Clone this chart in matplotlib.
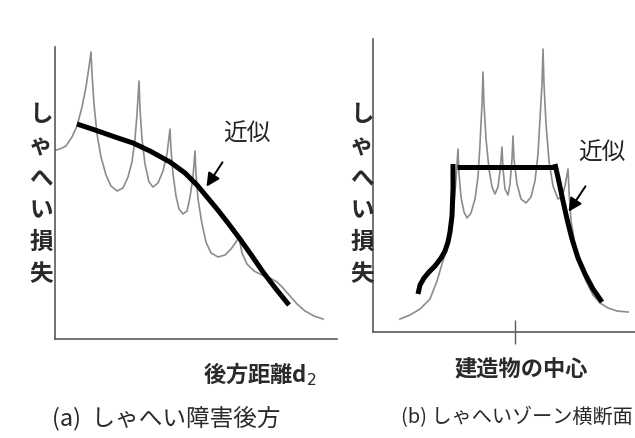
import matplotlib
matplotlib.use("Agg")
import matplotlib.pyplot as plt

plt.rcParams['font.family'] = ['Noto Sans CJK JP', 'DejaVu Sans']

# ---------------- data (schematic) ----------------
# Panel (a): shielding loss vs distance behind obstacle
a_dist = [1, 5, 11, 17, 22, 27, 31, 34, 36, 37, 39, 42, 46, 51, 56, 62, 68, 73, 77, 80, 82, 84,
          85, 87, 90, 94, 98, 103, 108, 112, 115, 116, 118, 121, 124, 128, 132, 135, 138, 140,
          141, 143, 147, 151, 156, 163, 170, 176, 181, 184, 187, 192, 199, 207, 215, 222, 228,
          235, 242, 250, 259, 268]
a_loss = [189, 190, 193, 202, 213, 232, 252, 272, 287, 265, 235, 205, 182, 164, 153, 148, 151, 162,
          177, 200, 225, 258, 230, 200, 175, 157, 152, 156, 168, 185, 210, 190, 165, 143, 130, 125,
          128, 142, 162, 188, 165, 140, 115, 97, 86, 82, 84, 90, 97, 102, 86, 75, 68, 64, 61, 57,
          51, 43, 35, 28, 23, 20]
a_fit_dist = [22, 40, 60, 78, 95, 115, 130, 142, 152, 162, 173, 185, 197, 208, 221, 234]
a_fit_loss = [215, 209, 202, 196, 188, 177, 166, 154, 142, 130, 116, 100, 83, 67, 50, 34]

# Panel (b): shielding loss across the shielding zone
b_pos = [27, 37, 47, 57, 64, 69, 74, 78, 81, 83, 85, 86, 88, 91, 94, 98, 102, 105, 107, 109, 110,
         111, 113, 116, 119, 122, 125, 127, 129, 130, 132, 135, 137, 139, 140, 141, 144, 148, 153,
         158, 162, 165, 167, 169, 170, 171, 173, 176, 180, 185, 189, 192, 195, 196, 198, 202, 207,
         213, 220, 227, 235, 244, 255]
b_loss = [13, 17, 23, 33, 51, 68, 83, 103, 128, 153, 183, 158, 135, 120, 114, 119, 133, 155, 188,
          228, 260, 228, 193, 163, 145, 138, 145, 161, 185, 163, 143, 137, 148, 173, 196, 173, 148,
          133, 129, 135, 151, 178, 213, 248, 283, 248, 208, 171, 146, 133, 135, 146, 163, 141, 111,
          88, 68, 51, 37, 29, 24, 21, 20]
b_fit_left_pos = [45, 47, 51, 56, 62, 68, 72, 75, 77, 79, 80, 80]
b_fit_left_loss = [38, 47, 54, 60, 66, 74, 81, 90, 100, 116, 143, 168]
b_fit_top_pos = [84, 182]
b_fit_top_loss = [165, 165]
b_fit_right_pos = [182, 186, 190, 194, 199, 205, 212, 220, 229]
b_fit_right_loss = [168, 150, 131, 113, 93, 74, 58, 43, 30]
b_center = [142]

# ---------------- figure ----------------
W, H = 635, 439
fig = plt.figure(figsize=(W / 100, H / 100), dpi=100)
fig.patch.set_facecolor('white')


def fx(x):
    return x / W


def fy(y):
    return 1 - y / H


AX_COL = '#5a5a5a'
GRAY = '#8c8c8c'

ax_a = fig.add_axes([fx(55), fy(340), 282 / W, 292 / H])
ax_b = fig.add_axes([fx(373), fy(333), 262 / W, 293 / H])

for ax in (ax_a, ax_b):
    ax.set_facecolor('none')
    for s in ('top', 'right'):
        ax.spines[s].set_visible(False)
    for s in ('left', 'bottom'):
        ax.spines[s].set_color(AX_COL)
        ax.spines[s].set_linewidth(1.2)
    ax.set_yticks([])

ax_a.set_xlim(0, 282)
ax_a.set_ylim(0, 292)
ax_a.set_xticks([])
ax_b.set_xlim(0, 262)
ax_b.set_ylim(0, 293)
ax_b.set_xticks(b_center)
ax_b.tick_params(axis='x', direction='inout', length=17, width=1.0, color=AX_COL,
                 labelbottom=False)

# panel (a)
ax_a.plot(a_dist, a_loss, color=GRAY, lw=1.2, solid_joinstyle='round')
ax_a.plot(a_fit_dist, a_fit_loss, color='black', lw=3.6, solid_capstyle='butt')
ax_a.annotate('', xy=(150, 150), xytext=(169, 179),
              arrowprops=dict(arrowstyle='-|>', color='black', lw=1.4, mutation_scale=20))
ax_a.text(192, 206, '近似', fontsize=17, ha='center', va='center', color='#222222')

# panel (b)
ax_b.plot(b_pos, b_loss, color=GRAY, lw=1.2, solid_joinstyle='round')
ax_b.plot(b_fit_left_pos, b_fit_left_loss, color='black', lw=3.6, solid_capstyle='butt')
ax_b.plot(b_fit_top_pos, b_fit_top_loss, color='black', lw=3.6, solid_capstyle='butt')
ax_b.plot(b_fit_right_pos, b_fit_right_loss, color='black', lw=3.6, solid_capstyle='butt')
ax_b.annotate('', xy=(194, 118), xytext=(214, 148),
              arrowprops=dict(arrowstyle='-|>', color='black', lw=1.4, mutation_scale=20))
ax_b.text(229, 180, '近似', fontsize=17, ha='center', va='center', color='#222222')

# labels
LAB = dict(fontsize=16, color='#2a2a2a', fontweight='bold')
ylab = '\n'.join('しゃへい損失')
fig.text(fx(41), fy(194), ylab, ha='center', va='center', linespacing=1.42,
         fontsize=17, color='#2a2a2a', fontweight='bold')
fig.text(fx(362), fy(194), ylab, ha='center', va='center', linespacing=1.42,
         fontsize=17, color='#2a2a2a', fontweight='bold')

fig.text(fx(260), fy(374), '後方距離d$_2$', ha='center', va='center', **LAB)
fig.text(fx(521), fy(370), '建造物の中心', ha='center', va='center', **LAB)

fig.text(fx(52), fy(418), '(a)  しゃへい障害後方', ha='left', va='center',
         fontsize=17, color='#2a2a2a')
fig.text(fx(633), fy(418), '(b) しゃへいゾーン横断面', ha='right', va='center',
         fontsize=14.5, color='#2a2a2a')

fig.savefig('out.png', dpi=100, facecolor='white')
